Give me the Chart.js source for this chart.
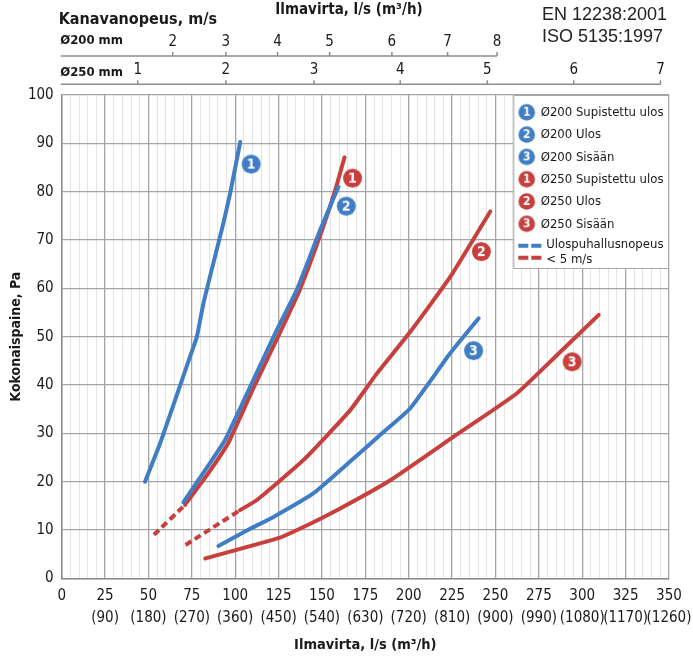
<!DOCTYPE html>
<html><head><meta charset="utf-8">
<script src="https://cdn.jsdelivr.net/npm/chart.js@4.4.1/dist/chart.umd.min.js"></script>
<style>html,body{margin:0;padding:0;background:#fff}#wrap{width:693px;height:659px;position:relative}</style>
</head><body><div id="wrap"><canvas id="c" width="693" height="659"></canvas></div>
<script>
const FONT = '"DejaVu Sans Condensed", "DejaVu Sans", sans-serif';
const BLUE = '#3f7dc4', RED = '#c7403d';

// ---- data (x: l/s, y: Pa) ----
const blue1X = [48, 56.7, 65.4, 74, 77.9, 81.7, 87.4, 93.2, 97.1, 102.9];
const blue1Y = [20, 27.9, 36.9, 45.9, 50, 56.9, 65.2, 73.5, 79.7, 90.3];
const blue2X = [70.1, 82.7, 94, 108.6, 124, 135.5, 149, 159.5];
const blue2Y = [15.7, 22.4, 28.5, 39.6, 51.4, 59.7, 72.1, 81];
const blue3X = [90.3, 106.7, 122.1, 145.1, 168.2, 184.6, 200.9, 224, 240.3];
const blue3Y = [6.7, 9.9, 12.7, 17.6, 24.8, 30, 35.2, 46.6, 53.8];
const red1DashX = [53.2, 71.1];
const red1DashY = [9.0, 15.2];
const red1X = [71.1, 84, 96, 110, 126, 137, 150, 158.2, 163];
const red1Y = [15.2, 21.5, 28, 39, 51, 59.5, 72, 81, 87.1];
const red2DashX = [71.4, 102.8];
const red2DashY = [6.9, 14.1];
const red2X = [102.8, 112.5, 139.4, 166.3, 181.7, 200.9, 224, 247];
const red2Y = [14.1, 16.2, 24.5, 34.8, 42.4, 51, 62.4, 75.9];
const red3X = [82.7, 124.9, 137.5, 158.6, 189.4, 225.9, 262.4, 285.5, 309.5];
const red3Y = [4.1, 8.3, 10.3, 14.1, 20.3, 29.3, 38.3, 46.2, 54.5];

// curve number markers (data coords)
const badgeNums = [1, 2, 3, 1, 2, 3];
const badgeX = [109.2, 164, 237.4, 167.6, 241.9, 294.2];
const badgeY = [85.7, 77.0, 47.1, 82.8, 67.6, 44.8];

const legendLabels = ['Ø200 Supistettu ulos', 'Ø200 Ulos', 'Ø200 Sisään', 'Ø250 Supistettu ulos', 'Ø250 Ulos', 'Ø250 Sisään'];
const legendDashText = ['Ulospuhallusnopeus', '< 5 m/s'];

// axes
const flowLabels = [0, 25, 50, 75, 100, 125, 150, 175, 200, 225, 250, 275, 300, 325, 350];
const m3hLabels = ['', '(90)', '(180)', '(270)', '(360)', '(450)', '(540)', '(630)', '(720)', '(810)', '(900)', '(990)', '(1080)', '(1170)', '(1260)'];
const v200Labels = [2, 3, 4, 5, 6, 7, 8];
const v200Flow = [64.0, 94.6, 124.4, 154.4, 190.3, 222.4, 250.9];
const v250Labels = [1, 2, 3, 4, 5, 6, 7];
const v250Flow = [43.8, 94.6, 145.4, 195.1, 245.3, 295.1, 345.1];

const pts = (xs, ys) => xs.map((x, i) => ({x, y: ys[i]}));

function badge(color, n, r) {
  const s = Math.ceil(r * 2 + 2);
  const c = document.createElement('canvas'); c.width = s; c.height = s;
  const g = c.getContext('2d');
  g.fillStyle = color; g.beginPath(); g.arc(s / 2, s / 2, r, 0, Math.PI * 2); g.fill();
  g.fillStyle = '#fff'; g.font = 'bold ' + Math.round(r * 1.45) + 'px ' + FONT;
  g.textAlign = 'center'; g.textBaseline = 'middle';
  g.fillText(String(n), s / 2, s / 2 + 0.5);
  return c;
}
const badgeColors = [BLUE, BLUE, BLUE, RED, RED, RED];

function lineDs(label, xs, ys, color, dashed, order) {
  return {
    label, data: pts(xs, ys), borderColor: color, backgroundColor: color,
    borderWidth: 4, pointRadius: 0, fill: false, tension: 0.15,
    borderJoinStyle: 'round',
    borderDash: dashed ? [7, 4] : [], borderCapStyle: dashed ? 'butt' : 'round', order
  };
}

const datasets = [
  lineDs('Ø250 Sisään', red3X, red3Y, RED, false, 5),
  lineDs('Ø250 Ulos', red2X, red2Y, RED, false, 5),
  lineDs('Ø250 Ulos <5', red2DashX, red2DashY, RED, true, 5),
  lineDs('Ø250 Supistettu ulos', red1X, red1Y, RED, false, 4),
  lineDs('Ø250 Supistettu ulos <5', red1DashX, red1DashY, RED, true, 4),
  lineDs('Ø200 Sisään', blue3X, blue3Y, BLUE, false, 3),
  lineDs('Ø200 Ulos', blue2X, blue2Y, BLUE, false, 2),
  lineDs('Ø200 Supistettu ulos', blue1X, blue1Y, BLUE, false, 2),
];
badgeNums.forEach((n, i) => {
  datasets.push({
    label: 'badge' + i, data: [{x: badgeX[i], y: badgeY[i]}], showLine: false,
    pointStyle: badge(badgeColors[i], n, 9.5), pointRadius: 10, pointHoverRadius: 10, order: 0
  });
});

const legendBadges = badgeNums.map((n, i) => badge(badgeColors[i], n, 8.3));

const overlay = {
  id: 'overlay',
  afterDraw(chart) {
    const g = chart.ctx, x = chart.scales.x, a = chart.chartArea;
    g.save();
    // ---- legend ----
    const L = a.right - 155.7, T = a.top, R = a.right, B = a.top + 174;
    g.fillStyle = '#fff'; g.fillRect(L, T, R - L, B - T);
    g.strokeStyle = '#a8a8a8'; g.lineWidth = 1; g.strokeRect(L + 0.5, T + 0.5, R - L - 1, B - T - 1);
    g.font = '13px ' + FONT; g.fillStyle = '#1a1a1a'; g.textBaseline = 'middle'; g.textAlign = 'left';
    legendLabels.forEach((t, i) => {
      const cy = T + 17.3 + i * 22.3;
      const im = legendBadges[i];
      g.drawImage(im, L + 13.4 - im.width / 2, cy - im.height / 2);
      g.fillText(t, L + 27.4, cy + 0.5);
    });
    g.lineWidth = 4; g.setLineDash([10, 3]);
    [[BLUE, 150.7], [RED, 162.7]].forEach(([c, dy]) => {
      g.strokeStyle = c; g.beginPath(); g.moveTo(L + 5, T + dy); g.lineTo(L + 29, T + dy); g.stroke();
    });
    g.setLineDash([]);
    g.fillText(legendDashText[0], L + 33, T + 150);
    g.fillText(legendDashText[1], L + 33, T + 164.5);

    // ---- top velocity axes ----
    const drawAxis = (flows, labels, yLine) => {
      const xEnd = x.getPixelForValue(flows[flows.length - 1]);
      g.strokeStyle = '#8c8c8c'; g.lineWidth = 1.5;
      g.beginPath(); g.moveTo(a.left - 1, yLine); g.lineTo(xEnd, yLine);
      flows.forEach(f => { const px = x.getPixelForValue(f); g.moveTo(px, yLine); g.lineTo(px, yLine - 4); });
      g.stroke();
      g.fillStyle = '#1a1a1a'; g.font = '15px ' + FONT; g.textAlign = 'center'; g.textBaseline = 'middle';
      flows.forEach((f, i) => g.fillText(String(labels[i]), x.getPixelForValue(f), yLine - 14));
    };
    drawAxis(v200Flow, v200Labels, a.top - 39);
    drawAxis(v250Flow, v250Labels, a.top - 10.7);
    g.textAlign = 'left'; g.font = 'bold 13px ' + FONT; g.fillStyle = '#1a1a1a';
    g.fillText('Ø200 mm', a.left - 1.5, a.top - 54);
    g.fillText('Ø250 mm', a.left - 1.5, a.top - 22);
    g.font = 'bold 16px ' + FONT;
    g.fillText('Kanavanopeus, m/s', a.left - 3, a.top - 75);
    g.textAlign = 'center'; g.font = 'bold 15px ' + FONT;
    g.fillText('Ilmavirta, l/s (m³/h)', 349, a.top - 85);
    g.textAlign = 'left'; g.font = '18px "Liberation Sans", Arial, sans-serif'; g.fillStyle = '#222';
    g.fillText('EN 12238:2001', 542, 15);
    g.fillText('ISO 5135:1997', 542, 37);
    g.restore();
  }
};

new Chart(document.getElementById('c'), {
  type: 'line',
  data: {datasets},
  options: {
    responsive: false, animation: false, devicePixelRatio: 1,
    layout: {padding: {left: 0, right: 24, top: 95, bottom: 0}},
    plugins: {legend: {display: false}, tooltip: {enabled: false}},
    scales: {
      x: {
        type: 'linear', min: 0, max: 350, position: 'bottom',
        afterFit: s => { s.height = 80.7; s.paddingRight = 0; s.paddingLeft = 0; },
        ticks: {
          stepSize: 5, autoSkip: false, maxRotation: 0, padding: 7, color: '#1a1a1a',
          font: {family: FONT, size: 15, lineHeight: 1.45},
          callback: v => { const i = flowLabels.indexOf(v); if (i < 0) return ''; return i === 0 ? '0' : [String(v), m3hLabels[i]]; }
        },
        grid: {
          drawTicks: false,
          color: c => (c.tick && c.tick.value % 25 === 0) ? '#a4a4a4' : '#e4e4e4',
          lineWidth: c => (c.tick && c.tick.value % 25 === 0) ? 1.3 : 1
        },
        border: {color: '#8c8c8c', width: 1.5},
        title: {display: true, text: 'Ilmavirta, l/s (m³/h)', color: '#1a1a1a', font: {family: FONT, size: 14.5, weight: 'bold'}, padding: {top: 0, bottom: 5}}
      },
      y: {
        min: 0, max: 100,
        afterFit: s => { s.width = 61.7; },
        ticks: {stepSize: 10, padding: 8, color: '#1a1a1a', font: {family: FONT, size: 15}},
        grid: {drawTicks: false, color: '#a4a4a4', lineWidth: 1.3},
        border: {color: '#8c8c8c', width: 1.5},
        title: {display: true, text: 'Kokonaispaine, Pa', color: '#1a1a1a', font: {family: FONT, size: 14, weight: 'bold'}, padding: {top: 8, bottom: 0}}
      }
    }
  },
  plugins: [overlay]
});
</script></body></html>
